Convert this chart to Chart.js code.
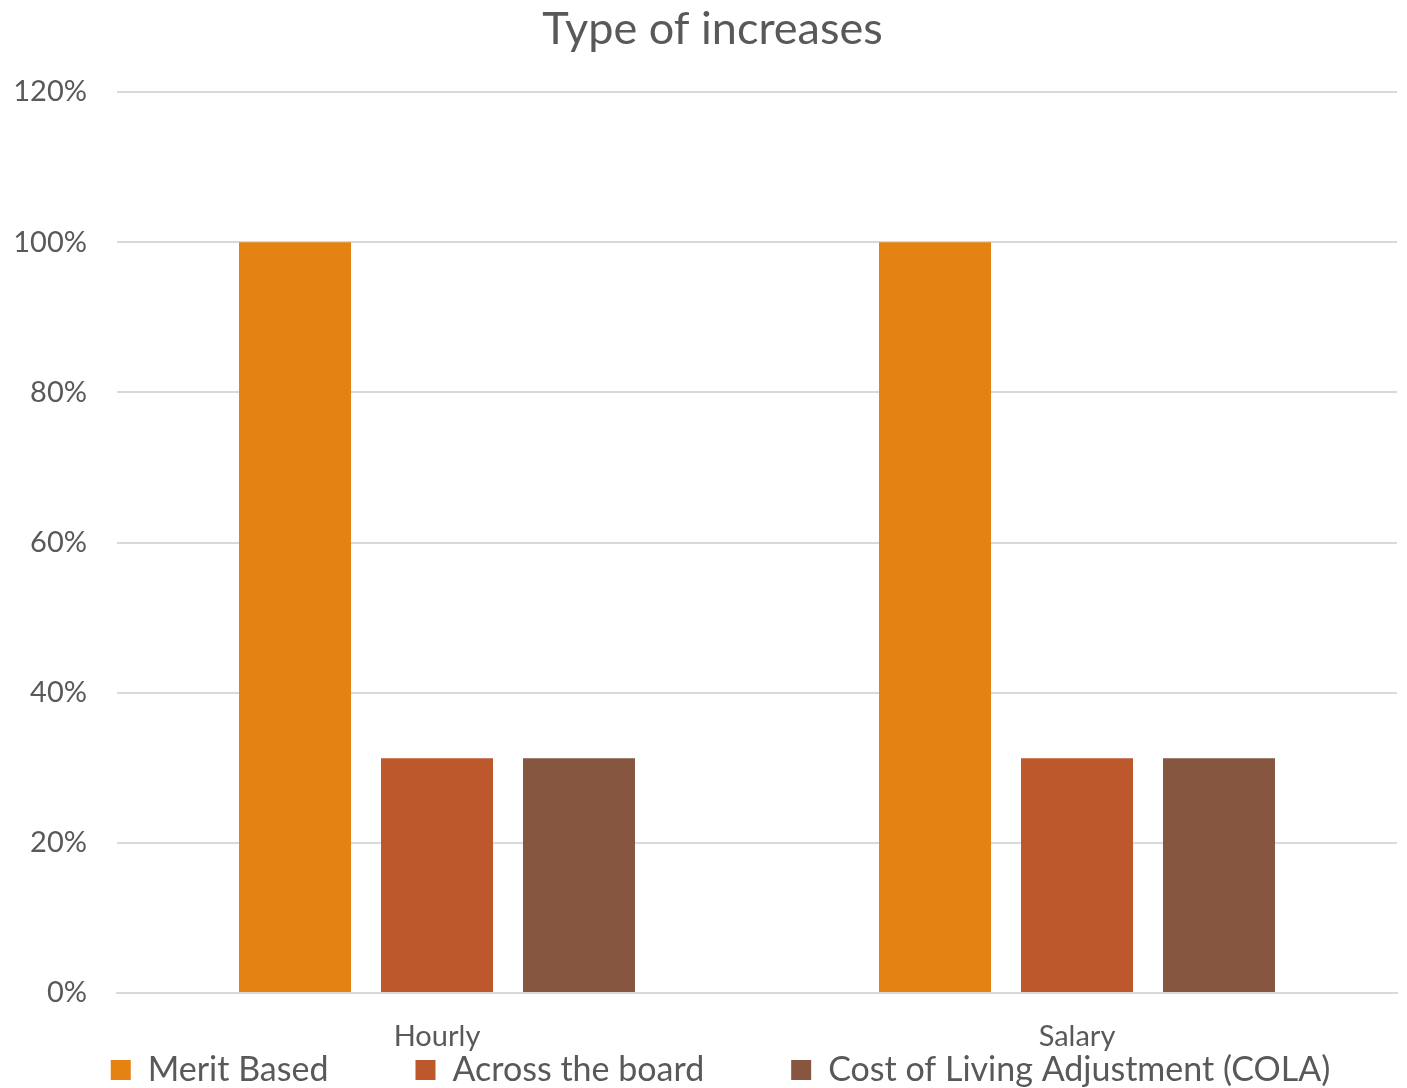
<!DOCTYPE html>
<html lang="en">
<head>
  <meta charset="UTF-8">
  <title>Type of increases</title>
  <script src="https://cdn.jsdelivr.net/npm/chart.js"></script>
  <style>
    html, body { margin: 0; padding: 0; background: #fff; }
    #wrap { width: 1407px; height: 1088px; position: relative; }
  </style>
</head>
<body>
  <div id="wrap"><canvas id="chart"></canvas></div>
  <script>
    // chart data
    const categories = ['Hourly', 'Salary'];
    const meritBased = [1.0, 1.0];
    const acrossTheBoard = [0.3125, 0.3125];
    const cola = [0.3125, 0.3125];
    const seriesNames = ['Merit Based', 'Across the board', 'Cost of Living Adjustment (COLA)'];
    const seriesColors = ['#E48312', '#BD582C', '#865640'];

    const textColor = '#595959';
    const gridColor = '#D9D9D9';
    const fontFamily = 'Lato, "Open Sans", sans-serif';

    // extra gap after each legend entry except the last
    const legendGap = '\u2003\u2003\u2003\u2009\u2009';

    const datasets = [meritBased, acrossTheBoard, cola].map((values, i) => ({
      label: seriesNames[i],
      data: values,
      backgroundColor: seriesColors[i],
      borderWidth: 0,
      categoryPercentage: 0.6656,
      barPercentage: 0.7887
    }));

    // nudge title and legend so they sit over the plot area
    const shiftBlocks = {
      id: 'shiftBlocks',
      afterLayout(chart) {
        const moves = [[chart.titleBlock, 14, 0], [chart.legend, 22, -3]];
        moves.forEach(([b, dx, dy]) => {
          if (!b) return;
          b.left += dx;
          b.right += dx;
          b.top += dy;
          b.bottom += dy;
        });
      }
    };

    new Chart(document.getElementById('chart'), {
      type: 'bar',
      data: { labels: categories, datasets },
      plugins: [shiftBlocks],
      options: {
        responsive: true,
        maintainAspectRatio: false,
        animation: false,
        layout: { padding: { left: 0, right: 10, top: 2, bottom: -12 } },
        plugins: {
          title: {
            display: true,
            text: 'Type of increases',
            color: textColor,
            font: { family: fontFamily, size: 45, weight: 'normal' },
            padding: { top: 0, bottom: 36 }
          },
          legend: {
            position: 'bottom',
            labels: {
              color: textColor,
              font: { family: fontFamily, size: 34 },
              boxWidth: 20,
              boxHeight: 20,
              padding: 2,
              generateLabels(chart) {
                const items = Chart.defaults.plugins.legend.labels.generateLabels(chart);
                items.forEach((item, i) => {
                  if (i < items.length - 1) item.text += legendGap;
                });
                return items;
              }
            }
          },
          tooltip: { enabled: false }
        },
        scales: {
          x: {
            afterFit(scale) { scale.height = 61; },
            grid: { display: false, drawTicks: false },
            border: { color: gridColor, width: 2 },
            ticks: {
              color: textColor,
              font: { family: fontFamily, size: 29 },
              padding: 26
            }
          },
          y: {
            min: 0,
            max: 1.2,
            afterFit(scale) { scale.width = 117; },
            grid: { color: gridColor, lineWidth: 2, drawTicks: false },
            border: { display: false },
            ticks: {
              stepSize: 0.2,
              color: textColor,
              font: { family: fontFamily, size: 29 },
              padding: 30,
              callback: v => Math.round(v * 100) + '%'
            }
          }
        }
      }
    });
  </script>
</body>
</html>
